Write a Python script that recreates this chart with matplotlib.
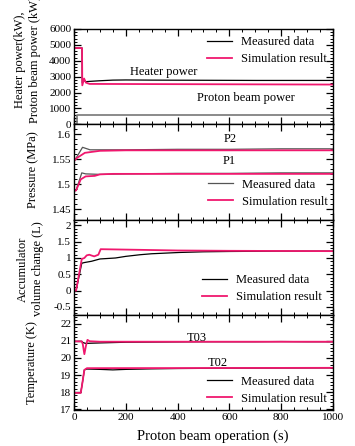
import matplotlib
matplotlib.use('Agg')
import matplotlib.pyplot as plt
from matplotlib.ticker import MultipleLocator, AutoMinorLocator

plt.rcParams['font.family'] = ['Liberation Serif', 'DejaVu Serif']

# --- data ---
heater_t_meas = [0, 31, 32, 37, 45, 60, 100, 150, 200, 300, 500, 700, 1000]
heater_meas = [4800, 4800, 2600, 2800, 2680, 2700, 2740, 2780, 2790, 2780, 2770, 2760, 2760]
heater_t_sim = [0, 31, 32, 39, 46, 60, 1000]
heater_sim = [4800, 4800, 2450, 2880, 2620, 2540, 2500]
beam_t = [0, 13, 13, 1000]
beam_power = [0, 0, 610, 610]

p2_t_meas = [0, 4, 33, 62, 100, 200, 400, 600, 800, 1000]
p2_meas = [1.548, 1.549, 1.574, 1.569, 1.569, 1.569, 1.570, 1.570, 1.571, 1.571]
p2_t_sim = [0, 12, 42, 100, 200, 1000]
p2_sim = [1.547, 1.553, 1.563, 1.567, 1.568, 1.568]
p1_t_meas = [0, 8, 30, 45, 100, 200, 400, 600, 800, 1000]
p1_meas = [1.487, 1.488, 1.523, 1.521, 1.520, 1.521, 1.522, 1.522, 1.523, 1.523]
p1_t_sim = [0, 8, 26, 45, 80, 100, 150, 1000]
p1_sim = [1.487, 1.488, 1.510, 1.516, 1.517, 1.520, 1.521, 1.521]

acc_t_meas = [0, 8, 30, 40, 68, 100, 160, 200, 255, 300, 409, 500, 600, 800, 1000]
acc_meas = [0, 0, 0.84, 0.86, 0.9, 0.97, 1.0, 1.05, 1.1, 1.13, 1.17, 1.19, 1.2, 1.21, 1.21]
acc_t_sim = [0, 8, 30, 40, 49, 59, 70, 78, 94, 103, 255, 400, 600, 1000]
acc_sim = [0, 0, 0.97, 1.0, 1.08, 1.1, 1.07, 1.05, 1.1, 1.27, 1.25, 1.23, 1.22, 1.21]

t03_t_meas = [0, 30, 35, 45, 60, 100, 150, 200, 300, 400, 500, 600, 700, 800, 900, 1000]
t03_meas = [20.97, 20.97, 20.9, 20.85, 20.86, 20.88, 20.9, 20.92, 20.93, 20.94, 20.95, 20.95, 20.95, 20.96, 20.95, 20.95]
t03_t_sim = [0, 30, 34, 40, 46, 52, 60, 100, 1000]
t03_sim = [20.97, 20.97, 20.8, 20.22, 20.7, 21.06, 20.98, 20.95, 20.95]
t02_t_meas = [0, 26, 32, 40, 50, 100, 150, 200, 300, 400, 600, 800, 1000]
t02_meas = [17.97, 17.97, 18.5, 19.3, 19.35, 19.33, 19.3, 19.33, 19.36, 19.38, 19.4, 19.41, 19.42]
t02_t_sim = [0, 26, 30, 40, 50, 1000]
t02_sim = [17.95, 17.95, 18.3, 19.3, 19.4, 19.42]

x_ticks = [0, 200, 400, 600, 800, 1000]

red = '#f0186e'
W, H = 355, 446

fig = plt.figure(figsize=(W / 100, H / 100), dpi=100)
gs = fig.add_gridspec(4, 1, left=74 / W, right=333 / W, top=1 - 29 / H, bottom=1 - 410 / H, hspace=0)
axes = [fig.add_subplot(gs[i]) for i in range(4)]

ax1, ax2, ax3, ax4 = axes

ax1.plot(heater_t_meas, heater_meas, color='black', lw=0.9, label='Measured data')
ax1.plot(heater_t_sim, heater_sim, color=red, lw=1.3, label='Simulation result')
ax1.plot(beam_t, beam_power, color='#777777', lw=1.2)
ax1.set_ylim(0, 6000)
ax1.yaxis.set_major_locator(MultipleLocator(1000))
ax1.text(348, 3280, 'Heater power', ha='center', va='center', fontsize=9)
ax1.text(662, 1640, 'Proton beam power', ha='center', va='center', fontsize=9)

ax2.plot(p2_t_meas, p2_meas, color='#555555', lw=0.9, label='Measured data')
ax2.plot(p2_t_sim, p2_sim, color=red, lw=1.3, label='Simulation result')
ax2.plot(p1_t_meas, p1_meas, color='#555555', lw=0.9)
ax2.plot(p1_t_sim, p1_sim, color=red, lw=1.3)
ax2.set_ylim(1.43, 1.62)
ax2.set_yticks([1.45, 1.5, 1.55, 1.6])
ax2.set_yticklabels(['1.45', '1.5', '1.55', '1.6'])
ax2.text(604, 1.5896, 'P2', ha='center', va='center', fontsize=9)
ax2.text(600, 1.5467, 'P1', ha='center', va='center', fontsize=9)

ax3.plot(acc_t_meas, acc_meas, color='black', lw=0.9, label='Measured data')
ax3.plot(acc_t_sim, acc_sim, color=red, lw=1.3, label='Simulation result')
ax3.set_ylim(-0.74, 2.18)
ax3.set_yticks([-0.5, 0, 0.5, 1, 1.5, 2])
ax3.set_yticklabels(['-0.5', '0', '0.5', '1', '1.5', '2'])

ax4.plot(t03_t_meas, t03_meas, color='black', lw=0.9, label='Measured data')
ax4.plot(t03_t_sim, t03_sim, color=red, lw=1.3, label='Simulation result')
ax4.plot(t02_t_meas, t02_meas, color='black', lw=0.9)
ax4.plot(t02_t_sim, t02_sim, color=red, lw=1.3)
ax4.set_ylim(16.95, 22.53)
ax4.yaxis.set_major_locator(MultipleLocator(1))
ax4.text(473, 21.18, 'T03', ha='center', va='center', fontsize=9)
ax4.text(556, 19.72, 'T02', ha='center', va='center', fontsize=9)

legend_pos = [(0.514, 0.926), (0.517, 0.427), (0.494, 0.427), (0.514, 0.362)]
for ax, pos in zip(axes, legend_pos):
    ax.set_xlim(0, 1000)
    ax.set_xticks(x_ticks)
    ax.xaxis.set_minor_locator(MultipleLocator(50))
    ax.yaxis.set_minor_locator(AutoMinorLocator(5))
    ax.tick_params(which='both', direction='in', top=True, right=True, labelsize=8, pad=2)
    ax.tick_params(which='major', length=5, width=0.9)
    ax.tick_params(which='minor', length=2.5, width=0.7)
    for s in ax.spines.values():
        s.set_linewidth(1.0)
    if ax is not ax4:
        ax.tick_params(labelbottom=False)
    ax.legend(loc='upper left', bbox_to_anchor=pos, frameon=False, fontsize=9,
              handlelength=2.0, handletextpad=0.7, labelspacing=0.4,
              borderpad=0, borderaxespad=0)

# y labels
fig.text(27.5 / W, 1 - 60 / H, 'Heater power(kW),\nProton beam power (kW)', rotation=90,
         ha='center', va='center', fontsize=9, linespacing=1.35)
fig.text(33 / W, 1 - 170 / H, 'Pressure (MPa)', rotation=90, ha='center', va='center', fontsize=9)
fig.text(30.5 / W, 1 - 269 / H, 'Accumulator\nvolume change (L)', rotation=90,
         ha='center', va='center', fontsize=9, linespacing=1.3)
fig.text(32 / W, 1 - 363 / H, 'Temperature (K)', rotation=90, ha='center', va='center', fontsize=9)
fig.text(213 / W, 1 - 436 / H, 'Proton beam operation (s)', ha='center', va='center', fontsize=10.5)

fig.savefig('out.png', dpi=100)
